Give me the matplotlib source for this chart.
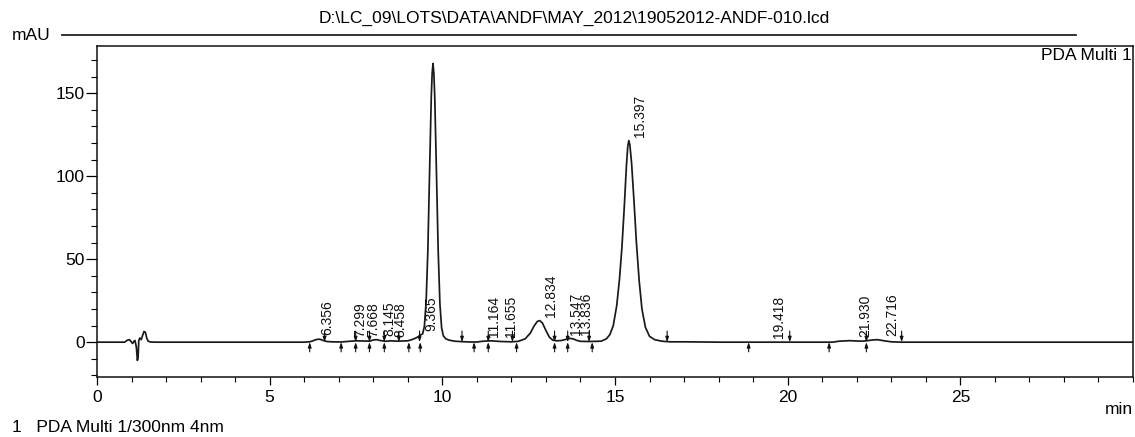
import numpy as np
import matplotlib
matplotlib.use("Agg")
import matplotlib.pyplot as plt
from matplotlib.ticker import MultipleLocator

plt.rcParams['font.family'] = ['Liberation Sans', 'DejaVu Sans']

# ---------------- data ----------------
time_min = [0.0, 0.80, 0.88, 0.94, 0.99, 1.03, 1.07, 1.10, 1.14, 1.17, 1.19, 1.21,
            1.24, 1.28, 1.32, 1.36, 1.40, 1.44, 1.48, 1.55, 1.70,
            6.00, 6.16, 6.25, 6.35, 6.45, 6.55, 6.65, 6.80, 7.07, 7.30, 7.50, 7.70,
            7.90, 8.00, 8.10, 8.20, 8.35, 8.50, 8.70, 9.00, 9.10, 9.20, 9.30, 9.38,
            9.43, 9.48, 9.53, 9.58, 9.63, 9.68, 9.705, 9.73, 9.755, 9.78, 9.83, 9.88,
            9.93, 9.98, 10.03, 10.10, 10.20, 10.35, 10.57, 10.80, 11.00, 11.20, 11.40,
            11.55, 11.70, 12.00, 12.20, 12.40, 12.55, 12.65, 12.75, 12.82, 12.90,
            13.00, 13.10, 13.20, 13.30, 13.45, 13.60, 13.70, 13.80, 13.90, 14.00,
            14.25, 14.45, 14.60, 14.75, 14.85, 14.95, 15.05, 15.13, 15.20, 15.27,
            15.33, 15.37, 15.40, 15.43, 15.48, 15.55, 15.62, 15.70, 15.78, 15.88,
            16.00, 16.15, 16.35, 16.60, 17.00, 18.00, 21.30, 21.50, 21.80, 22.00,
            22.20, 22.45, 22.60, 22.80, 23.00, 23.30, 30.0]
signal_mau = [0.0, 0.0, 1.2, 1.5, 0.3, -0.8, 0.5, 1.0, -3.0, -11.0, -9.0, 1.0,
              2.5, 1.5, 4.0, 6.4, 6.0, 2.5, 0.6, 0.1, 0.0,
              0.0, 0.2, 0.8, 1.6, 1.8, 1.0, 0.4, 0.2, 0.1, 0.5, 0.8, 0.7,
              0.6, 1.3, 1.5, 1.0, 0.5, 0.8, 0.6, 0.8, 1.4, 2.2, 3.2, 4.5,
              5.0, 9.5, 24.0, 54.6, 102.0, 148.0, 162.0, 168.0, 162.0, 148.0, 102.0, 55.0,
              23.0, 8.5, 3.8, 2.0, 1.2, 0.6, 0.3, 0.1, 0.1, 0.6, 0.8,
              0.6, 0.4, 0.2, 0.5, 2.0, 5.5, 9.5, 12.5, 13.0, 11.5,
              7.0, 3.0, 1.2, 0.8, 1.0, 1.8, 2.3, 1.9, 1.0, 0.5,
              0.4, 0.5, 0.6, 2.0, 4.5, 10.0, 22.0, 38.0, 57.0, 82.0,
              106.0, 118.0, 121.5, 119.0, 108.0, 85.0, 60.0, 37.0, 20.0, 9.0,
              3.5, 1.5, 0.6, 0.2, 0.2, 0.0, 0.0, 0.6, 0.9, 0.7,
              0.6, 1.3, 1.5, 0.8, 0.2, 0.0, 0.0]

peak_labels = ["6.356", "7.299", "7.668", "8.145", "8.458", "9.365", "11.164",
               "11.655", "12.834", "13.547", "13.836", "15.397", "19.418",
               "21.930", "22.716"]
peak_rt = [6.356, 7.299, 7.668, 8.145, 8.458, 9.365, 11.164,
           11.655, 12.834, 13.547, 13.836, 15.397, 19.418, 21.930, 22.716]

peak_starts = [6.16, 7.07, 7.49, 7.89, 8.32, 9.03, 9.36, 10.92, 11.33, 12.15,
               13.25, 13.63, 14.34, 18.87, 21.20, 22.28]
peak_ends = [6.59, 7.49, 7.89, 8.32, 8.74, 9.34, 10.57, 11.33, 12.03, 13.25,
             13.63, 14.25, 16.51, 20.06, 22.28, 23.30]

x_major_ticks = [0, 5, 10, 15, 20, 25]
y_major_ticks = [0, 50, 100, 150]

title_text = r"D:\LC_09\LOTS\DATA\ANDF\MAY_2012\19052012-ANDF-010.lcd"
channel_text = "PDA Multi 1"
footer_text = "1   PDA Multi 1/300nm 4nm"

# ---------------- figure ----------------
W, H = 1135, 437
fig = plt.figure(figsize=(W / 100, H / 100), dpi=100)
ax = fig.add_axes([97 / W, 60 / H, (1133 - 97) / W, (377 - 46) / H])

ax.plot(time_min, signal_mau, color='#1a1a1a', lw=1.25)

ax.set_xlim(0, 30)
ax.set_ylim(-21, 178.5)
ax.set_xticks(x_major_ticks)
ax.set_yticks(y_major_ticks)
ax.xaxis.set_minor_locator(MultipleLocator(1))
ax.yaxis.set_minor_locator(MultipleLocator(10))
ax.tick_params(axis='x', which='major', length=6, width=0.9, labelsize=12.5, pad=3)
ax.tick_params(axis='x', which='minor', length=3.5, width=0.8)
ax.tick_params(axis='y', which='major', length=8, width=0.9, labelsize=12.5, pad=1)
ax.tick_params(axis='y', which='minor', length=4.5, width=0.8)
for s in ax.spines.values():
    s.set_linewidth(1.1)
    s.set_color('#111111')

# peak labels
for lab, rt in zip(peak_labels, peak_rt):
    yv = np.interp(rt, time_min, signal_mau)
    ax.annotate(lab, xy=(rt, yv), xytext=(8, 3), textcoords='offset points',
                rotation=90, ha='center', va='bottom', fontsize=10, color='#111111')

# integration markers
arrow_kw = dict(arrowstyle='-|>,head_length=0.3,head_width=0.1', lw=0.8, color='#111111',
                shrinkA=0, shrinkB=0)
for t in peak_starts:
    ax.annotate('', xy=(t, 0), xytext=(0, -7), textcoords='offset points',
                arrowprops=arrow_kw)
for t in peak_ends:
    ax.annotate('', xy=(t, 0), xytext=(0, 8), textcoords='offset points',
                arrowprops=arrow_kw)

# texts around the chart
fig.text(574 / W, 1 - 18 / H, title_text, ha='center', va='center', fontsize=12.5)
fig.add_artist(plt.Line2D([62 / W, 1076 / W], [1 - 35 / H, 1 - 35 / H],
                          color='#222222', lw=1.3))
fig.text(12 / W, 1 - 36 / H, "mAU", ha='left', va='center', fontsize=12.5)
ax.text(0.999, 0.995, channel_text, transform=ax.transAxes, ha='right', va='top',
        fontsize=12.5)
fig.text(1133 / W, 1 - 410 / H, "min", ha='right', va='center', fontsize=12.5)
fig.text(12 / W, 1 - 428 / H, footer_text, ha='left', va='center', fontsize=12.5)

fig.savefig("out.png", dpi=100)
